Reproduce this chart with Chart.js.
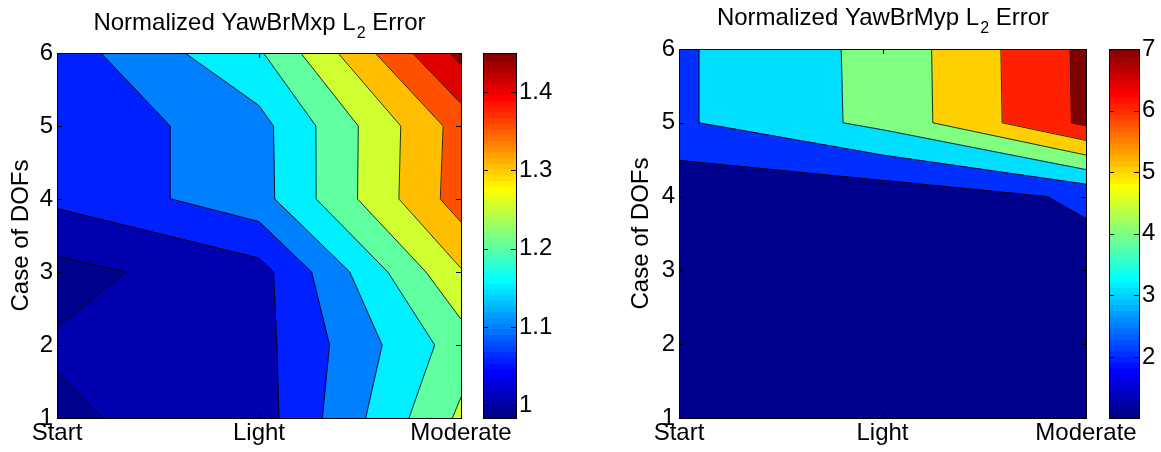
<!DOCTYPE html>
<html>
<head>
<meta charset="utf-8">
<script src="https://cdn.jsdelivr.net/npm/chart.js@4.4.1/dist/chart.umd.min.js"></script>
<style>
  body { margin: 0; background: #fff; }
  #wrap { position: relative; width: 1161px; height: 452px; overflow: hidden; }
  canvas { position: absolute; top: 0; }
</style>
</head>
<body>
<div id="wrap">
  <canvas id="plotA" width="580" height="452" style="left:0px"></canvas>
  <canvas id="barA" width="100" height="452" style="left:470px"></canvas>
  <canvas id="plotB" width="581" height="452" style="left:580px"></canvas>
  <canvas id="barB" width="66" height="452" style="left:1095px"></canvas>
</div>
<script>
var categories = ['Start', 'Light', 'Moderate'];
var dofCases = [1, 2, 3, 4, 5, 6];

// YawBrMxp, error at DOF case 1..6 for each load case
var mxpStart    = [0.992, 1.005, 0.984, 1.060, 1.058, 1.074];
var mxpLight    = [1.027, 1.033, 1.031, 1.131, 1.133, 1.194];
var mxpModerate = [1.260, 1.225, 1.296, 1.375, 1.371, 1.465];
var mxpLevels   = [1.0, 1.05, 1.1, 1.15, 1.2, 1.25, 1.3, 1.35, 1.4, 1.45];
var mxpBarTicks = [1, 1.1, 1.2, 1.3, 1.4];

// YawBrMyp
var mypStart    = [1.01, 1.02, 1.05, 1.172, 2.862, 2.86];
var mypLight    = [1.04, 1.06, 1.12, 1.36, 4.274, 4.29];
var mypModerate = [1.08, 1.15, 1.65, 2.15, 7.21, 7.23];
var mypLevels   = [2, 3, 4, 5, 6, 7];
var mypBarTicks = [2, 3, 4, 5, 6, 7];

var FONT = '"Liberation Sans", Arial, Helvetica, sans-serif';
var tickFont = { family: FONT, size: 24 };

// matlab jet colormap
function jet(m) {
  var n = Math.ceil(m / 4), u = [], i;
  for (i = 1; i <= n; i++) u.push(i / n);
  for (i = 1; i < n; i++) u.push(1);
  for (i = n; i >= 1; i--) u.push(i / n);
  var g0 = Math.ceil(n / 2) - (m % 4 == 1 ? 1 : 0);
  var map = [];
  for (i = 0; i < m; i++) map.push([0, 0, 0]);
  for (var j = 0; j < u.length; j++) {
    var gi = g0 + j + 1, ri = gi + n, bi = gi - n;
    if (ri >= 1 && ri <= m) map[ri - 1][0] = u[j];
    if (gi >= 1 && gi <= m) map[gi - 1][1] = u[j];
    if (bi >= 1 && bi <= m) map[bi - 1][2] = u[j];
  }
  return map.map(function (c) {
    return 'rgb(' + c.map(function (v) { return Math.round(v * 255); }).join(',') + ')';
  });
}
var cmap = jet(64);

function colorFor(c, cmin, cmax) {
  var k = Math.floor((c - cmin) / (cmax - cmin) * 64);
  return cmap[Math.max(0, Math.min(63, k))];
}

// filled bands and contour segments, cell by cell
function contourData(cols, levels) {
  var xs = [1, 2, 3];
  var zmin = Math.min.apply(null, [].concat.apply([], cols));
  var cmax = levels[levels.length - 1];
  var bounds = [-Infinity].concat(levels).concat([Infinity]);
  var polys = [], lines = [];
  for (var i = 0; i < xs.length - 1; i++) {
    for (var j = 0; j < dofCases.length - 1; j++) {
      var c = [
        { x: xs[i], y: dofCases[j], v: cols[i][j] },
        { x: xs[i + 1], y: dofCases[j], v: cols[i + 1][j] },
        { x: xs[i + 1], y: dofCases[j + 1], v: cols[i + 1][j + 1] },
        { x: xs[i], y: dofCases[j + 1], v: cols[i][j + 1] }
      ];
      for (var k = 0; k < bounds.length - 1; k++) {
        var lo = bounds[k], hi = bounds[k + 1], pts = [];
        for (var e = 0; e < 4; e++) {
          var p = c[e], q = c[(e + 1) % 4];
          if (p.v >= lo && p.v < hi) pts.push({ x: p.x, y: p.y });
          var cr = [];
          [lo, hi].forEach(function (L) {
            if (!isFinite(L)) return;
            if ((p.v < L) != (q.v < L)) {
              var t = (L - p.v) / (q.v - p.v);
              cr.push({ t: t, x: p.x + t * (q.x - p.x), y: p.y + t * (q.y - p.y) });
            }
          });
          cr.sort(function (a, b) { return a.t - b.t; });
          cr.forEach(function (o) { pts.push({ x: o.x, y: o.y }); });
        }
        if (pts.length >= 3) {
          pts.push({ x: pts[0].x, y: pts[0].y });
          polys.push({ color: colorFor(k == 0 ? zmin : lo, zmin, cmax), pts: pts });
        }
      }
      levels.forEach(function (L) {
        var hits = [];
        for (var e = 0; e < 4; e++) {
          var p = c[e], q = c[(e + 1) % 4];
          if ((p.v < L) != (q.v < L)) {
            var t = (L - p.v) / (q.v - p.v);
            hits.push({ x: p.x + t * (q.x - p.x), y: p.y + t * (q.y - p.y) });
          }
        }
        for (var h = 0; h + 1 < hits.length; h += 2) {
          lines.push(hits[h], hits[h + 1], { x: hits[h + 1].x, y: null });
        }
      });
    }
  }
  return { polys: polys, lines: lines, cmin: zmin, cmax: cmax };
}

var matlabAxes = {
  id: 'matlabAxes',
  afterDraw: function (chart) {
    var a = chart.chartArea, ctx = chart.ctx, len = 5;
    ctx.save();
    ctx.strokeStyle = '#000';
    ctx.lineWidth = 1;
    ctx.beginPath();
    Object.keys(chart.scales).forEach(function (key) {
      var s = chart.scales[key];
      if (s.options.display === false) return;
      s.ticks.forEach(function (t) {
        var p = Math.round(s.getPixelForValue(t.value)) + 0.5;
        if (s.isHorizontal()) {
          ctx.moveTo(p, a.bottom); ctx.lineTo(p, a.bottom - len);
          ctx.moveTo(p, a.top); ctx.lineTo(p, a.top + len);
        } else {
          ctx.moveTo(a.left, p); ctx.lineTo(a.left + len, p);
          ctx.moveTo(a.right, p); ctx.lineTo(a.right - len, p);
        }
      });
    });
    ctx.stroke();
    ctx.strokeRect(Math.round(a.left) + 0.5, Math.round(a.top) + 0.5,
      Math.round(a.right - a.left), Math.round(a.bottom - a.top));
    ctx.restore();
  }
};

var titleL2 = {
  id: 'titleL2',
  afterDraw: function (chart, args, opts) {
    if (!opts.name) return;
    var ctx = chart.ctx, a = chart.chartArea;
    var big = '24px ' + FONT, small = '16px ' + FONT;
    var t1 = 'Normalized ' + opts.name + ' L', t2 = '2', t3 = ' Error';
    ctx.save();
    ctx.font = big;
    var w1 = ctx.measureText(t1).width, w3 = ctx.measureText(t3).width;
    ctx.font = small;
    var w2 = ctx.measureText(t2).width;
    var x = (a.left + a.right) / 2 - (w1 + w2 + w3) / 2, y = opts.baseline;
    ctx.fillStyle = '#000';
    ctx.textAlign = 'left';
    ctx.textBaseline = 'alphabetic';
    ctx.font = big;
    ctx.fillText(t1, x, y);
    ctx.font = small;
    ctx.fillText(t2, x + w1 + 1, y + 8);
    ctx.font = big;
    ctx.fillText(t3, x + w1 + w2 + 1, y);
    ctx.restore();
  }
};

function contourChart(id, name, cols, levels, pad, yWidth, titleY) {
  var cd = contourData(cols, levels);
  var datasets = [{
    data: cd.lines, showLine: true, spanGaps: false, borderColor: '#000',
    borderWidth: 0.8, pointRadius: 0, fill: false
  }];
  cd.polys.forEach(function (p) {
    datasets.push({
      data: p.pts, showLine: true, borderColor: p.color, backgroundColor: p.color,
      borderWidth: 1, pointRadius: 0, fill: 'shape', tension: 0
    });
  });
  new Chart(document.getElementById(id), {
    type: 'scatter',
    data: { datasets: datasets },
    options: {
      responsive: false,
      animation: false,
      events: [],
      layout: { padding: pad },
      plugins: {
        legend: { display: false },
        tooltip: { enabled: false },
        titleL2: { name: name, baseline: titleY }
      },
      scales: {
        x: {
          min: 1, max: 3,
          grid: { display: false, drawTicks: false },
          border: { display: false },
          afterBuildTicks: function (s) { s.ticks = [1, 2, 3].map(function (v) { return { value: v }; }); },
          afterFit: function (s) { s.height = 34; s.paddingLeft = 0; s.paddingRight = 0; },
          ticks: {
            callback: function (v) { return categories[v - 1]; },
            font: tickFont, color: '#000', padding: 1, maxRotation: 0, autoSkip: false
          }
        },
        y: {
          min: 1, max: 6,
          grid: { display: false, drawTicks: false },
          border: { display: false },
          afterBuildTicks: function (s) { s.ticks = dofCases.map(function (v) { return { value: v }; }); },
          afterFit: function (s) { s.width = yWidth; },
          ticks: { font: tickFont, color: '#000', padding: 4 },
          title: {
            display: true, text: 'Case of DOFs', color: '#000',
            font: tickFont, padding: { top: 7, bottom: 0 }
          }
        }
      }
    },
    plugins: [matlabAxes, titleL2]
  });
  return cd;
}

function colorBar(id, cmin, cmax, barTicks, pad, yWidth) {
  var step = (cmax - cmin) / 64, datasets = [];
  for (var k = 0; k < 64; k++) {
    var lo = cmin + k * step;
    datasets.push({
      data: [[lo, lo + step * 1.5]], backgroundColor: cmap[k], borderWidth: 0,
      barPercentage: 1, categoryPercentage: 1
    });
  }
  new Chart(document.getElementById(id), {
    type: 'bar',
    data: { labels: [''], datasets: datasets },
    options: {
      responsive: false,
      animation: false,
      events: [],
      layout: { padding: pad },
      plugins: { legend: { display: false }, tooltip: { enabled: false } },
      scales: {
        x: { display: false, stacked: true },
        y: {
          position: 'right', stacked: false, min: cmin, max: cmax,
          grid: { display: false, drawTicks: false },
          border: { display: false },
          afterBuildTicks: function (s) { s.ticks = barTicks.map(function (v) { return { value: v }; }); },
          afterFit: function (s) { s.width = yWidth; },
          ticks: {
            font: tickFont, color: '#000', padding: 3,
            callback: function (v) { return String(+v.toFixed(2)); }
          }
        }
      }
    },
    plugins: [matlabAxes]
  });
}

var a = contourChart('plotA', 'YawBrMxp', [mxpStart, mxpLight, mxpModerate], mxpLevels,
  { left: 0, right: 119, top: 53, bottom: 0 }, 57, 30);
colorBar('barA', a.cmin, a.cmax, mxpBarTicks, { left: 13, right: 0, top: 53, bottom: 34 }, 54);

var b = contourChart('plotB', 'YawBrMyp', [mypStart, mypLight, mypModerate], mypLevels,
  { left: 40, right: 75, top: 49, bottom: 0 }, 59, 25);
colorBar('barB', b.cmin, b.cmax, mypBarTicks, { left: 14, right: 0, top: 49, bottom: 34 }, 22);
</script>
</body>
</html>
